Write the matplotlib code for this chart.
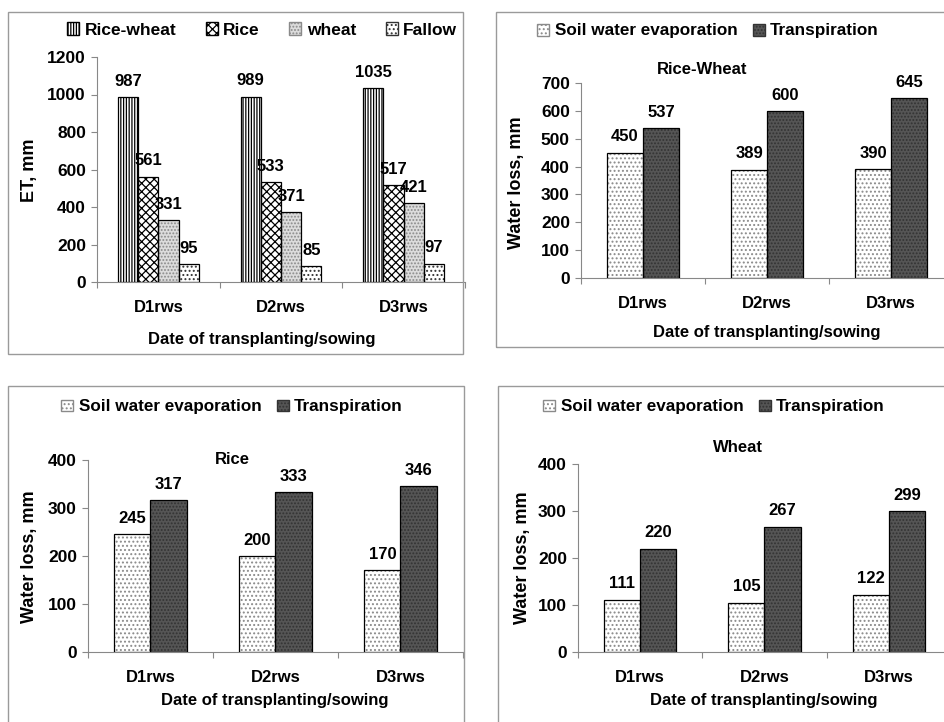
import numpy as np
import matplotlib
matplotlib.use("Agg")
import matplotlib.pyplot as plt
from matplotlib.patches import Patch, Rectangle

plt.rcParams["font.family"] = ["Liberation Sans", "DejaVu Sans"]
plt.rcParams["font.weight"] = "bold"
plt.rcParams["hatch.linewidth"] = 0.9

# data
cats = ["D1rws", "D2rws", "D3rws"]

et_rice_wheat = [987, 989, 1035]
et_rice = [561, 533, 517]
et_wheat = [331, 371, 421]
et_fallow = [95, 85, 97]

rw_soil = [450, 389, 390]
rw_transp = [537, 600, 645]
rice_soil = [245, 200, 170]
rice_transp = [317, 333, 346]
wheat_soil = [111, 105, 122]
wheat_transp = [220, 267, 299]

W, H = 945, 722
fig = plt.figure(figsize=(W / 100, H / 100), dpi=100)

FS = 12


def px_axes(l, r, t, b):
    return fig.add_axes([l / W, 1 - b / H, (r - l) / W, (b - t) / H])


def border(l, r, t, b):
    fig.add_artist(Rectangle((l / W, 1 - b / H), (r - l) / W, (b - t) / H,
                             transform=fig.transFigure, fill=False,
                             edgecolor="#9a9a9a", lw=1.0))


def hbar(ax, x, vals, w, face, hatch, hcol):
    ax.bar(x, vals, w, color=face, hatch=hatch, edgecolor=hcol, lw=0, zorder=2)
    ax.bar(x, vals, w, fill=False, edgecolor="black", lw=0.9, zorder=3)
    for xi, v in zip(x, vals):
        ax.annotate(str(v), (xi, v), xytext=(0, 6), textcoords="offset points",
                    ha="center", va="bottom", fontsize=FS, fontweight="bold")


def style(ax, ymax, ystep):
    ax.set_xlim(-0.5, 2.5)
    ax.set_ylim(0, ymax)
    ax.set_yticks(np.arange(0, ymax + 1, ystep))
    ax.set_xticks([-0.5, 0.5, 1.5, 2.5])
    ax.set_xticklabels([])
    ax.set_xticks([0, 1, 2], minor=True)
    ax.set_xticklabels(cats, minor=True)
    ax.tick_params(axis="x", which="minor", length=0, pad=13, labelsize=FS)
    ax.tick_params(axis="x", which="major", length=4, color="#888888", direction="out")
    ax.tick_params(axis="y", length=4, color="#888888", direction="out", labelsize=FS + 0.5, pad=4)
    for s in ["top", "right"]:
        ax.spines[s].set_visible(False)
    for s in ["left", "bottom"]:
        ax.spines[s].set_color("#888888")
    for lab in ax.get_yticklabels() + ax.get_xticklabels(minor=True):
        lab.set_fontweight("bold")
    ax.patch.set_alpha(0)


soil_style = ("white", "....", "#8a8a8a")
transp_style = ("#555555", ".....", "#333333")


def legend_handles(styles, labels):
    return [Patch(facecolor=f, hatch=h, edgecolor=c, label=l) for (f, h, c), l in zip(styles, labels)]


# ---- panel 1: ET
border(8, 463, 12, 354)
ax1 = px_axes(97, 465, 57, 282)
x = np.arange(3)
bw = 0.165
st1 = [("white", "||||||", "black"), ("white", "xxxx", "black"),
       ("#dcdcdc", ".....", "#8a8a8a"), ("white", "....", "#333333")]
lab1 = ["Rice-wheat", "Rice", "wheat", "Fallow"]
for i, (vals, s) in enumerate(zip([et_rice_wheat, et_rice, et_wheat, et_fallow], st1)):
    hbar(ax1, x + (i - 1.5) * bw, vals, bw, *s)
style(ax1, 1200, 200)
fig.text(30 / W, 1 - 170 / H, "ET, mm", rotation=90, ha="center", va="center", fontsize=FS + 1)
fig.text(262 / W, 1 - 340 / H, "Date of transplanting/sowing", ha="center", va="center", fontsize=FS)
fig.legend(handles=legend_handles(st1, lab1), loc="center", bbox_to_anchor=(262 / W, 1 - 30 / H),
           ncol=4, frameon=False, handlelength=0.7, handleheight=0.7,
           handletextpad=0.3, columnspacing=1.7, prop={"weight": "bold", "size": FS + 0.5})

lab2 = ["Soil water evaporation", "Transpiration"]
bw2 = 0.29


def wl_panel(box, axbox, soil, transp, ymax, title, tpos, ylpos, xlpos, legpos):
    border(*box)
    ax = px_axes(*axbox)
    hbar(ax, x - bw2 / 2, soil, bw2, *soil_style)
    hbar(ax, x + bw2 / 2, transp, bw2, *transp_style)
    style(ax, ymax, 100)
    fig.text(tpos[0] / W, 1 - tpos[1] / H, title, ha="center", va="center", fontsize=FS)
    fig.text(ylpos[0] / W, 1 - ylpos[1] / H, "Water loss, mm", rotation=90,
             ha="center", va="center", fontsize=FS + 1)
    fig.text(xlpos[0] / W, 1 - xlpos[1] / H, "Date of transplanting/sowing",
             ha="center", va="center", fontsize=FS)
    fig.legend(handles=legend_handles([soil_style, transp_style], lab2), loc="center",
               bbox_to_anchor=(legpos[0] / W, 1 - legpos[1] / H), ncol=2, frameon=False,
               handlelength=0.7, handleheight=0.7, handletextpad=0.3, columnspacing=0.9,
               prop={"weight": "bold", "size": FS + 0.3})
    return ax


wl_panel((496, 960, 12, 347), (581, 953, 83, 278), rw_soil, rw_transp, 700,
         "Rice-Wheat", (702, 70), (517, 183), (767, 332), (708, 31))
wl_panel((8, 464, 386, 740), (88, 463, 460, 652), rice_soil, rice_transp, 400,
         "Rice", (232, 460), (30, 557), (275, 700), (232, 407))
wl_panel((498, 960, 386, 740), (578, 951, 464, 652), wheat_soil, wheat_transp, 400,
         "Wheat", (738, 447), (522, 558), (764, 700), (714, 407))

fig.savefig("out.png", dpi=100)
